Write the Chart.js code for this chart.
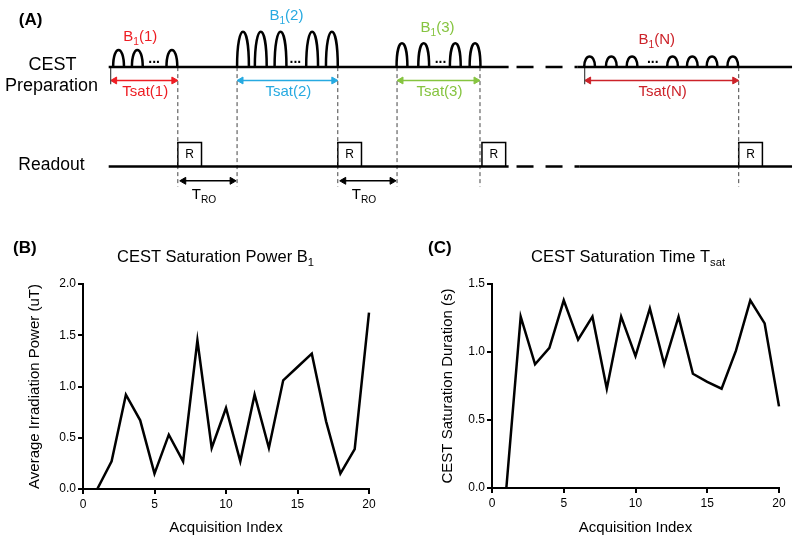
<!DOCTYPE html>
<html>
<head>
<meta charset="utf-8">
<script src="https://cdn.jsdelivr.net/npm/chart.js@4.4.0/dist/chart.umd.min.js"></script>
<style>
  body { margin: 0; background: #fff; }
  #wrap { position: relative; width: 800px; height: 544px; overflow: hidden; }
  canvas { position: absolute; }
</style>
</head>
<body>
<div id="wrap">
  <canvas id="seqChart" width="800" height="225" style="left:0;top:0"></canvas>
  <canvas id="powerChart" width="400" height="314" style="left:0;top:230px"></canvas>
  <canvas id="timeChart" width="400" height="314" style="left:400px;top:230px"></canvas>
</div>
<script>
// ---- data for panels B and C ----
let acqIndex = [1, 2, 3, 4, 5, 6, 7, 8, 9, 10, 11, 12, 13, 14, 15, 16, 17, 18, 19, 20];
let b1Power = [0, 0.27, 0.92, 0.67, 0.15, 0.53, 0.27, 1.45, 0.40, 0.79, 0.27, 0.92, 0.40, 1.06, 1.19, 1.32, 0.66, 0.15, 0.39, 1.72];
let tsatDuration = [0, 1.26, 0.91, 1.03, 1.38, 1.09, 1.26, 0.73, 1.26, 0.97, 1.32, 0.91, 1.26, 0.84, 0.78, 0.73, 1.01, 1.38, 1.21, 0.60];
let indexTicks = [0, 5, 10, 15, 20];
let powerTicks = [0, 0.5, 1.0, 1.5, 2.0];
let timeTicks = [0, 0.5, 1.0, 1.5];

// ---- schematic (panel A), in time units along the sequence ----
let groupNames = ['(1)', '(2)', '(3)', '(N)'];
let groupColors = ['#ee1d23', '#27aae1', '#86c440', '#cc2229'];
let pulseCenters = [
  [115, 134, 169],
  [241, 259, 279, 311, 331],
  [402, 424, 456, 476],
  [592, 614, 635, 676, 696, 716, 737]
];
let pulseAmp = [18, 37, 25, 11];       // B1 amplitude of each block
let dotsAt = [151, 294, 441, 656];
let tsatStart = [107, 235, 397, 587];
let tsatEnd = [175, 337, 481, 743];
let roStart = [177, 339];
let roEnd = [234, 396];

const prepY = 65, readY = 169, tsatY = 79, troY = 184, boxH = 25, boxW = 24;
const FONT = '"Liberation Sans", Arial, sans-serif';

// draw text that has subscript parts: parts = [[text, isSub], ...]
function richText(ctx, parts, x, y, size, color, align, bold) {
  let w = 0;
  parts.forEach(p => {
    ctx.font = (bold ? 'bold ' : '') + (p[1] ? size * 0.68 : size) + 'px ' + FONT;
    w += ctx.measureText(p[0]).width;
  });
  let cx = align === 'left' ? x : x - w / 2;
  ctx.fillStyle = color;
  ctx.textBaseline = 'middle';
  ctx.textAlign = 'left';
  parts.forEach(p => {
    ctx.font = (bold ? 'bold ' : '') + (p[1] ? size * 0.68 : size) + 'px ' + FONT;
    ctx.fillText(p[0], cx, p[1] ? y + size * 0.35 : y);
    cx += ctx.measureText(p[0]).width;
  });
}

function seg(x1, y1, x2, y2, color, width, dash) {
  return {
    data: [{x: x1, y: y1}, {x: x2, y: y2}],
    showLine: true, borderColor: color, borderWidth: width,
    borderDash: dash || [], pointRadius: 0, fill: false
  };
}

function arrow(x1, x2, y, color) {
  return {
    data: [{x: x1 + 4, y: y}, {x: x2 - 4, y: y}],
    showLine: true, borderColor: color, borderWidth: 1.5,
    pointStyle: 'triangle', pointRadius: 4, pointRotation: [270, 90],
    pointBackgroundColor: color, pointBorderColor: color, pointBorderWidth: 1
  };
}

// build schematic datasets
let seqSets = [];
seqSets.push(seg(105, prepY, 510, prepY, '#000', 2.5));
seqSets.push(seg(518, prepY, 580, prepY, '#000', 2.5, [17, 12]));
seqSets.push(seg(580, prepY, 797, prepY, '#000', 2.5));
seqSets.push(seg(105, readY, 510, readY, '#000', 2.5));
seqSets.push(seg(518, readY, 582, readY, '#000', 2.5, [17, 12]));
seqSets.push(seg(582, readY, 797, readY, '#000', 2.5));

tsatEnd.forEach(x => seqSets.push(seg(x, prepY, x, 190, '#444', 1, [4, 3])));
[tsatStart[1], tsatStart[2]].forEach(x => seqSets.push(seg(x, prepY, x, 190, '#444', 1, [4, 3])));
[tsatStart[0], tsatStart[3]].forEach(x => seqSets.push(seg(x, prepY, x, prepY + 18, '#444', 1.2)));

tsatStart.forEach((x, i) => seqSets.push(arrow(x, tsatEnd[i], tsatY, groupColors[i])));
roStart.forEach((x, i) => seqSets.push(arrow(x, roEnd[i], troY, '#000')));

tsatEnd.forEach((x, i) => {
  let x0 = i === 2 ? x + 2 : x;
  seqSets.push({
    data: [{x: x0, y: readY}, {x: x0, y: readY - boxH}, {x: x0 + boxW, y: readY - boxH}, {x: x0 + boxW, y: readY}],
    showLine: true, borderColor: '#000', borderWidth: 1.5, pointRadius: 0, fill: false
  });
});

const seqPlugin = {
  id: 'seqPlugin',
  afterDatasetsDraw(chart) {
    const ctx = chart.ctx, xs = chart.scales.x, ys = chart.scales.y;
    const px = v => xs.getPixelForValue(v), py = v => ys.getPixelForValue(v);
    ctx.save();
    // saturation pulses
    ctx.strokeStyle = '#000';
    ctx.lineWidth = 2.5;
    pulseCenters.forEach((centers, g) => {
      let hw = g === 1 ? 6 : 5.5;
      centers.forEach(c => {
        let base = py(prepY), top = py(prepY - pulseAmp[g]);
        let cy = base + (top - base) * 4 / 3;
        ctx.beginPath();
        ctx.moveTo(px(c - hw), base);
        ctx.bezierCurveTo(px(c - hw), cy, px(c + hw), cy, px(c + hw), base);
        ctx.stroke();
      });
      ctx.font = 'bold 14px ' + FONT;
      ctx.fillStyle = '#000';
      ctx.textAlign = 'center';
      ctx.textBaseline = 'alphabetic';
      ctx.fillText('...', px(dotsAt[g]), py(prepY - 4));
    });
    // readout boxes letters
    tsatEnd.forEach((x, i) => {
      let x0 = i === 2 ? x + 2 : x;
      ctx.font = '12px ' + FONT;
      ctx.fillStyle = '#000';
      ctx.textAlign = 'center';
      ctx.textBaseline = 'middle';
      ctx.fillText('R', px(x0 + boxW / 2), py(readY - boxH / 2));
    });
    // labels
    let b1Y = [33, 11, 24, 37];
    let b1X = [137, 285, 438, 660];
    groupNames.forEach((n, i) => {
      richText(ctx, [['B', false], ['1', true], [n, false]], px(b1X[i]), py(b1Y[i]), 15, groupColors[i], 'center');
      richText(ctx, [['Tsat' + n, false]], px((tsatStart[i] + tsatEnd[i]) / 2 + 1), py(91), 15, groupColors[i], 'center');
    });
    roStart.forEach((x, i) => {
      richText(ctx, [['T', false], ['RO', true]], px((x + roEnd[i]) / 2 - 4), py(199), 15, '#000', 'center');
    });
    richText(ctx, [['(A)', false]], px(14), py(16), 17, '#000', 'left', true);
    richText(ctx, [['CEST', false]], px(48), py(63), 18, '#000', 'center');
    richText(ctx, [['Preparation', false]], px(47), py(85), 18, '#000', 'center');
    richText(ctx, [['Readout', false]], px(47), py(168), 17.5, '#000', 'center');
    ctx.restore();
  }
};

new Chart(document.getElementById('seqChart'), {
  type: 'scatter',
  data: { datasets: seqSets },
  options: {
    responsive: false,
    animation: false,
    layout: { padding: 0 },
    plugins: { legend: { display: false }, tooltip: { enabled: false } },
    scales: {
      x: { type: 'linear', display: false, min: 0, max: 800 },
      y: { type: 'linear', display: false, min: 0, max: 225, reverse: true }
    }
  },
  plugins: [seqPlugin]
});

// ---- panels B and C ----
function panelTitle(letter, parts, letterX, titleX) {
  return {
    id: 'panelTitle' + letter,
    afterDraw(chart) {
      const ctx = chart.ctx;
      ctx.save();
      richText(ctx, [['(' + letter + ')', false]], letterX, 18, 17, '#000', 'left', true);
      richText(ctx, parts, titleX, 27, 16.5, '#000', 'left');
      ctx.restore();
    }
  };
}

function lineChart(id, values, yTicks, yMax, yTitle, pad, yWidth, xHeight, titlePlugin) {
  return new Chart(document.getElementById(id), {
    type: 'line',
    data: {
      datasets: [{
        data: acqIndex.map((x, i) => ({x: x, y: values[i]})),
        borderColor: '#000',
        borderWidth: 2.5,
        pointRadius: 0,
        tension: 0,
        fill: false,
        clip: 8
      }]
    },
    options: {
      responsive: false,
      animation: false,
      layout: { padding: pad },
      plugins: { legend: { display: false }, tooltip: { enabled: false } },
      scales: {
        x: {
          type: 'linear', min: 0, max: 20,
          afterBuildTicks: s => { s.ticks = indexTicks.map(v => ({value: v})); },
          ticks: { color: '#000', font: { family: FONT, size: 12 }, padding: 3 },
          grid: { drawOnChartArea: false, tickLength: 5, color: '#000', lineWidth: 2 },
          border: { color: '#000', width: 2 },
          title: { display: true, text: 'Acquisition Index', color: '#000', font: { family: FONT, size: 15 } },
          afterFit: s => { s.height = xHeight; }
        },
        y: {
          type: 'linear', min: 0, max: yMax,
          afterBuildTicks: s => { s.ticks = yTicks.map(v => ({value: v})); },
          ticks: { color: '#000', font: { family: FONT, size: 12 }, padding: 2, callback: v => v.toFixed(1) },
          grid: { drawOnChartArea: false, tickLength: 5, color: '#000', lineWidth: 2 },
          border: { color: '#000', width: 2 },
          title: { display: true, text: yTitle, color: '#000', font: { family: FONT, size: 15 } },
          afterFit: s => { s.width = yWidth; }
        }
      }
    },
    plugins: [titlePlugin]
  });
}

lineChart('powerChart', b1Power, powerTicks, 2.0, 'Average Irradiation Power (uT)',
  { left: 22, top: 54, right: 31, bottom: 3 }, 61, 52,
  panelTitle('B', [['CEST Saturation Power B', false], ['1', true]], 13, 117));

lineChart('timeChart', tsatDuration, timeTicks, 1.5, 'CEST Saturation Duration (s)',
  { left: 35, top: 54, right: 21, bottom: 3 }, 57, 53,
  panelTitle('C', [['CEST Saturation Time T', false], ['sat', true]], 28, 131));
</script>
</body>
</html>
